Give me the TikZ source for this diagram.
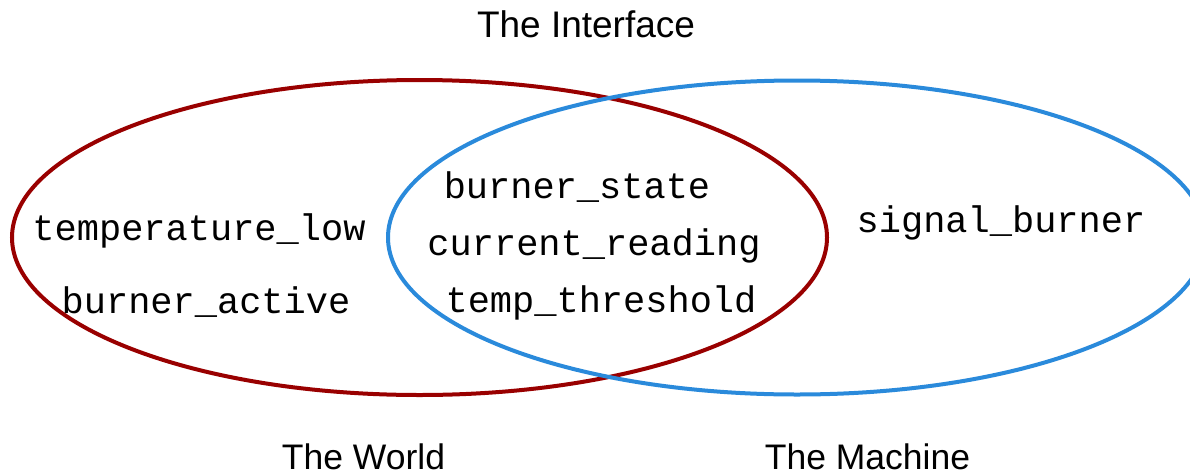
\documentclass[tikz,border=0pt]{standalone}
\usepackage{fontspec}
\setmainfont{Liberation Sans}
\newfontfamily\monofam{Liberation Mono}
\usetikzlibrary{shapes.geometric}
\definecolor{worldred}{HTML}{990000}
\definecolor{machineblue}{HTML}{2A8ADB}
\tikzset{
  setshape/.style={ellipse, draw, line width=4pt, inner sep=0pt, outer sep=0pt},
  varlabel/.style={anchor=base, inner sep=0pt, font=\monofam\fontsize{37}{44}\selectfont},
  title/.style={anchor=base, inner sep=0pt, font=\fontsize{37}{44}\selectfont},
  subtitle/.style={anchor=base, inner sep=0pt, font=\fontsize{35.5}{42}\selectfont}
}
\begin{document}
\begin{tikzpicture}[x=1pt,y=-1pt]
\useasboundingbox (0,0) rectangle (1190,474);
\clip (0,0) rectangle (1190,474);
\node[setshape, worldred, minimum width=815pt, minimum height=315pt] (world) at (419.5,237.5) {};
\node[setshape, machineblue, minimum width=818pt, minimum height=314pt] (machine) at (797,237.5) {};
\node[title] (interface) at (586,37) {The Interface};
\node[subtitle] (worldlbl) at (363.5,469) {The World};
\node[subtitle] (machinelbl) at (867.5,469) {The Machine};
\node[varlabel] (templow) at (199,240) {temperature\_low};
\node[varlabel] (bactive) at (206,313) {burner\_active};
\node[varlabel] (bstate) at (577,198) {burner\_state};
\node[varlabel] (creading) at (594,255) {current\_reading};
\node[varlabel] (tthresh) at (601,312) {temp\_threshold};
\node[varlabel] (sburner) at (1001,232) {signal\_burner};
\end{tikzpicture}
\end{document}
